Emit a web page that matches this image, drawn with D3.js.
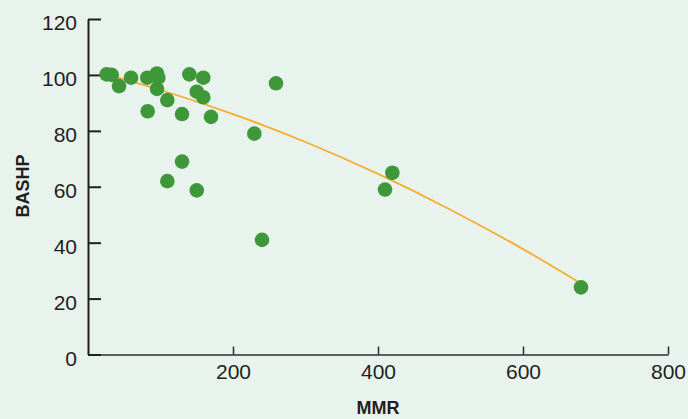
<!DOCTYPE html>
<html>
<head>
<meta charset="utf-8">
<script src="https://cdn.jsdelivr.net/npm/d3@7"></script>
<style>
  html, body { margin: 0; padding: 0; background: #e8f3ed; }
  svg { display: block; font-family: "Liberation Sans", Arial, Helvetica, sans-serif; }
</style>
</head>
<body>
<svg id="chart"></svg>
<script>
// MMR vs BASHP, scatter with fitted trend
const mmr   = [25.7, 32.7, 42.8, 59.3, 81.8, 95, 97, 95.2, 109.4, 82.3, 129.7, 139.8, 159, 150, 159, 169.7, 259.3, 229.4, 129.7, 109.4, 150, 240, 409.7, 419.8, 680];
const bashp = [100.2, 100, 96, 99, 99, 100.5, 99, 95, 91, 87, 86, 100.2, 99, 94, 92, 85, 97, 79, 69, 62, 58.7, 41, 59, 65, 24];

// trend line
const trendX = [25, 100, 200, 300, 400, 500, 600, 680];
const trendY = [100.2, 94.6, 86, 76, 64.6, 51.8, 37.7, 25.4];

const xTicks = [200, 400, 600, 800];
const yTicks = [0, 20, 40, 60, 80, 100, 120];

const width = 688, height = 419;
const svg = d3.select('#chart').attr('width', width).attr('height', height);

const x = d3.scaleLinear().domain([0, 800]).range([88, 668]);
const y = d3.scaleLinear().domain([0, 120]).range([354.5, 19]);

// x axis
const xAxis = svg.append('g')
  .attr('transform', `translate(0,${y(0)})`)
  .call(d3.axisBottom(x).tickValues(xTicks).tickSizeInner(-8).tickSizeOuter(0).tickPadding(10));
xAxis.select('.domain').attr('stroke', '#2b2b2b').attr('stroke-width', 1.5);
xAxis.selectAll('.tick line').attr('stroke', '#2b2b2b').attr('stroke-width', 1.5);
xAxis.selectAll('text').attr('fill', '#231f20').style('font-size', '21px');

// y axis
const yAxis = svg.append('g')
  .attr('transform', `translate(${x(0)},0)`)
  .call(d3.axisLeft(y).tickValues(yTicks).tickSizeInner(-13).tickSizeOuter(0).tickPadding(11));
yAxis.select('.domain').attr('stroke', '#1f1f1f').attr('stroke-width', 2);
yAxis.selectAll('.tick line').attr('stroke', '#1f1f1f').attr('stroke-width', 2);
yAxis.selectAll('text').attr('fill', '#231f20').attr('dy', '0.5em').style('font-size', '21px');

// trend line
const trend = trendX.map((v, i) => [v, trendY[i]]);
svg.append('path')
  .datum(trend)
  .attr('fill', 'none')
  .attr('stroke', '#f8ac31')
  .attr('stroke-width', 1.8)
  .attr('d', d3.line().x(d => x(d[0])).y(d => y(d[1])).curve(d3.curveNatural));

// points
svg.append('g')
  .selectAll('circle')
  .data(mmr.map((v, i) => ({ mmr: v, bashp: bashp[i] })))
  .join('circle')
    .attr('cx', d => x(d.mmr))
    .attr('cy', d => y(d.bashp))
    .attr('r', 7.3)
    .attr('fill', '#3e9739');

// axis titles
svg.append('text')
  .attr('x', 378)
  .attr('y', 414)
  .attr('text-anchor', 'middle')
  .attr('fill', '#231f20')
  .style('font-size', '18px')
  .style('font-weight', 'bold')
  .text('MMR');

svg.append('text')
  .attr('transform', 'translate(29,186) rotate(-90)')
  .attr('text-anchor', 'middle')
  .attr('fill', '#231f20')
  .style('font-size', '18px')
  .style('font-weight', 'bold')
  .text('BASHP');
</script>
</body>
</html>
